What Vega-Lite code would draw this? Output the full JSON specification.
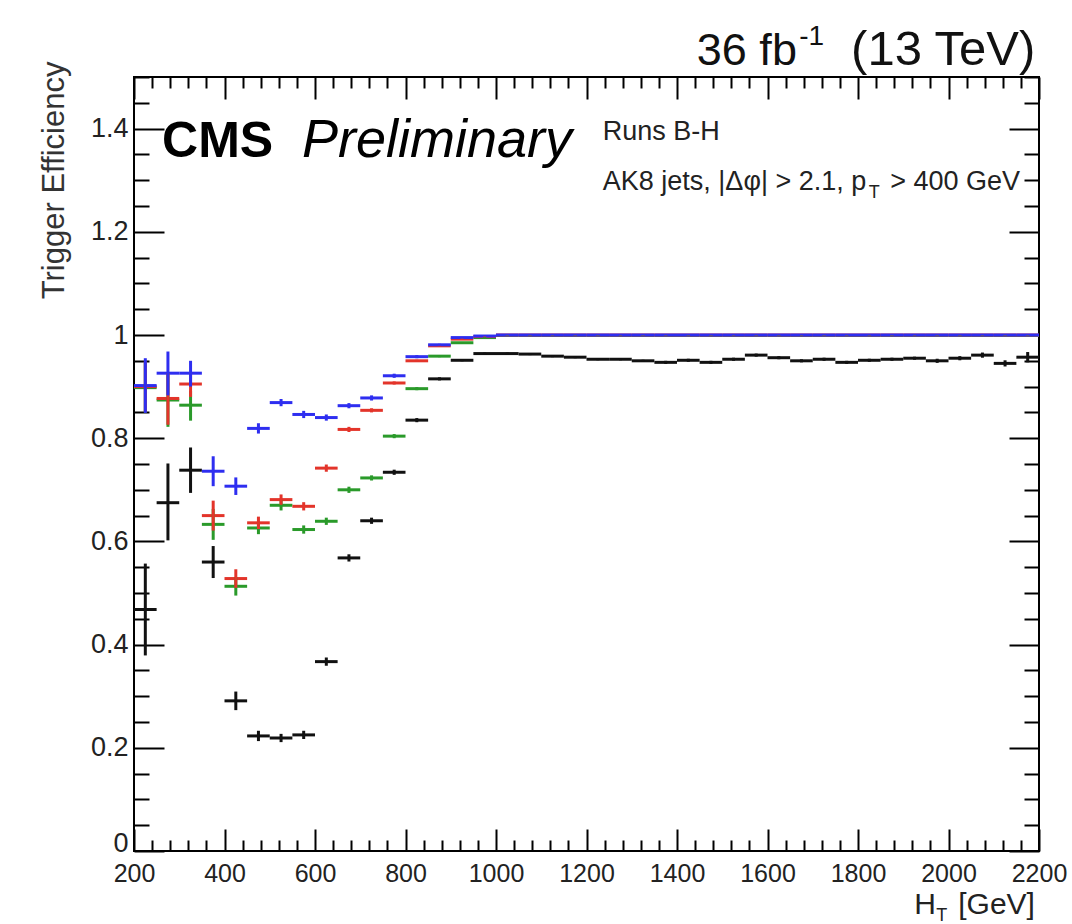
{
  "$schema": "https://vega.github.io/schema/vega-lite/v6.json",
  "width": 905,
  "height": 774,
  "autosize": {"type": "none"},
  "padding": {"left": 134, "top": 77, "right": 33, "bottom": 73},
  "background": "white",
  "config": {
    "view": {"stroke": "black", "strokeWidth": 2},
    "font": "Liberation Sans",
    "axis": {"labelFont": "Liberation Sans", "titleFont": "Liberation Sans", "grid": false, "domain": false, "tickColor": "black", "tickWidth": 2, "labelColor": "#222", "titleColor": "#333"}
  },
  "datasets": {
    "pts": [
      {"s":"k","x":225,"x0":200,"x1":250,"y":0.468,"lo":0.379,"hi":0.557},
      {"s":"k","x":275,"x0":250,"x1":300,"y":0.675,"lo":0.602,"hi":0.751},
      {"s":"k","x":325,"x0":300,"x1":350,"y":0.738,"lo":0.694,"hi":0.782},
      {"s":"k","x":375,"x0":350,"x1":400,"y":0.560,"lo":0.529,"hi":0.591},
      {"s":"k","x":425,"x0":400,"x1":450,"y":0.291,"lo":0.273,"hi":0.309},
      {"s":"k","x":475,"x0":450,"x1":500,"y":0.223,"lo":0.213,"hi":0.233},
      {"s":"k","x":525,"x0":500,"x1":550,"y":0.219,"lo":0.211,"hi":0.227},
      {"s":"k","x":575,"x0":550,"x1":600,"y":0.225,"lo":0.217,"hi":0.233},
      {"s":"k","x":625,"x0":600,"x1":650,"y":0.367,"lo":0.359,"hi":0.375},
      {"s":"k","x":675,"x0":650,"x1":700,"y":0.568,"lo":0.561,"hi":0.575},
      {"s":"k","x":725,"x0":700,"x1":750,"y":0.640,"lo":0.634,"hi":0.646},
      {"s":"k","x":775,"x0":750,"x1":800,"y":0.734,"lo":0.729,"hi":0.739},
      {"s":"k","x":825,"x0":800,"x1":850,"y":0.835,"lo":0.831,"hi":0.839},
      {"s":"k","x":875,"x0":850,"x1":900,"y":0.915,"lo":0.912,"hi":0.918},
      {"s":"k","x":925,"x0":900,"x1":950,"y":0.951,"lo":0.949,"hi":0.953},
      {"s":"k","x":975,"x0":950,"x1":1000,"y":0.964,"lo":0.962,"hi":0.966},
      {"s":"k","x":1025,"x0":1000,"x1":1050,"y":0.964,"lo":0.962,"hi":0.966},
      {"s":"k","x":1075,"x0":1050,"x1":1100,"y":0.963,"lo":0.961,"hi":0.965},
      {"s":"k","x":1125,"x0":1100,"x1":1150,"y":0.959,"lo":0.957,"hi":0.961},
      {"s":"k","x":1175,"x0":1150,"x1":1200,"y":0.957,"lo":0.955,"hi":0.959},
      {"s":"k","x":1225,"x0":1200,"x1":1250,"y":0.953,"lo":0.951,"hi":0.955},
      {"s":"k","x":1275,"x0":1250,"x1":1300,"y":0.953,"lo":0.951,"hi":0.955},
      {"s":"k","x":1325,"x0":1300,"x1":1350,"y":0.950,"lo":0.948,"hi":0.952},
      {"s":"k","x":1375,"x0":1350,"x1":1400,"y":0.947,"lo":0.944,"hi":0.950},
      {"s":"k","x":1425,"x0":1400,"x1":1450,"y":0.951,"lo":0.948,"hi":0.954},
      {"s":"k","x":1475,"x0":1450,"x1":1500,"y":0.947,"lo":0.944,"hi":0.950},
      {"s":"k","x":1525,"x0":1500,"x1":1550,"y":0.953,"lo":0.950,"hi":0.956},
      {"s":"k","x":1575,"x0":1550,"x1":1600,"y":0.961,"lo":0.958,"hi":0.964},
      {"s":"k","x":1625,"x0":1600,"x1":1650,"y":0.956,"lo":0.953,"hi":0.959},
      {"s":"k","x":1675,"x0":1650,"x1":1700,"y":0.950,"lo":0.947,"hi":0.953},
      {"s":"k","x":1725,"x0":1700,"x1":1750,"y":0.953,"lo":0.950,"hi":0.956},
      {"s":"k","x":1775,"x0":1750,"x1":1800,"y":0.947,"lo":0.944,"hi":0.950},
      {"s":"k","x":1825,"x0":1800,"x1":1850,"y":0.951,"lo":0.948,"hi":0.954},
      {"s":"k","x":1875,"x0":1850,"x1":1900,"y":0.953,"lo":0.950,"hi":0.956},
      {"s":"k","x":1925,"x0":1900,"x1":1950,"y":0.955,"lo":0.952,"hi":0.958},
      {"s":"k","x":1975,"x0":1950,"x1":2000,"y":0.950,"lo":0.946,"hi":0.954},
      {"s":"k","x":2025,"x0":2000,"x1":2050,"y":0.955,"lo":0.951,"hi":0.959},
      {"s":"k","x":2075,"x0":2050,"x1":2100,"y":0.961,"lo":0.956,"hi":0.966},
      {"s":"k","x":2125,"x0":2100,"x1":2150,"y":0.945,"lo":0.939,"hi":0.951},
      {"s":"k","x":2175,"x0":2150,"x1":2200,"y":0.957,"lo":0.947,"hi":0.967},

      {"s":"g","x":225,"x0":200,"x1":250,"y":0.898,"lo":0.850,"hi":0.946},
      {"s":"g","x":275,"x0":250,"x1":300,"y":0.874,"lo":0.822,"hi":0.925},
      {"s":"g","x":325,"x0":300,"x1":350,"y":0.864,"lo":0.834,"hi":0.892},
      {"s":"g","x":375,"x0":350,"x1":400,"y":0.633,"lo":0.603,"hi":0.663},
      {"s":"g","x":425,"x0":400,"x1":450,"y":0.513,"lo":0.495,"hi":0.531},
      {"s":"g","x":475,"x0":450,"x1":500,"y":0.626,"lo":0.614,"hi":0.638},
      {"s":"g","x":525,"x0":500,"x1":550,"y":0.670,"lo":0.660,"hi":0.680},
      {"s":"g","x":575,"x0":550,"x1":600,"y":0.623,"lo":0.615,"hi":0.631},
      {"s":"g","x":625,"x0":600,"x1":650,"y":0.639,"lo":0.632,"hi":0.646},
      {"s":"g","x":675,"x0":650,"x1":700,"y":0.700,"lo":0.694,"hi":0.706},
      {"s":"g","x":725,"x0":700,"x1":750,"y":0.723,"lo":0.718,"hi":0.728},
      {"s":"g","x":775,"x0":750,"x1":800,"y":0.804,"lo":0.800,"hi":0.808},
      {"s":"g","x":825,"x0":800,"x1":850,"y":0.896,"lo":0.893,"hi":0.899},
      {"s":"g","x":875,"x0":850,"x1":900,"y":0.959,"lo":0.957,"hi":0.961},
      {"s":"g","x":925,"x0":900,"x1":950,"y":0.985,"lo":0.984,"hi":0.986},
      {"s":"g","x":975,"x0":950,"x1":1000,"y":0.995,"lo":0.994,"hi":0.996},
      {"s":"g","x":1025,"x0":1000,"x1":1050,"y":0.999,"lo":0.998,"hi":1.0},
      {"s":"g","x":1075,"x0":1050,"x1":1100,"y":0.999,"lo":0.998,"hi":1.0},
      {"s":"g","x":1125,"x0":1100,"x1":1150,"y":0.999,"lo":0.998,"hi":1.0},
      {"s":"g","x":1175,"x0":1150,"x1":1200,"y":0.999,"lo":0.998,"hi":1.0},
      {"s":"g","x":1225,"x0":1200,"x1":1250,"y":0.999,"lo":0.998,"hi":1.0},
      {"s":"g","x":1275,"x0":1250,"x1":1300,"y":0.999,"lo":0.998,"hi":1.0},
      {"s":"g","x":1325,"x0":1300,"x1":1350,"y":0.999,"lo":0.998,"hi":1.0},
      {"s":"g","x":1375,"x0":1350,"x1":1400,"y":0.999,"lo":0.998,"hi":1.0},
      {"s":"g","x":1425,"x0":1400,"x1":1450,"y":0.999,"lo":0.998,"hi":1.0},
      {"s":"g","x":1475,"x0":1450,"x1":1500,"y":0.999,"lo":0.998,"hi":1.0},
      {"s":"g","x":1525,"x0":1500,"x1":1550,"y":0.999,"lo":0.998,"hi":1.0},
      {"s":"g","x":1575,"x0":1550,"x1":1600,"y":0.999,"lo":0.998,"hi":1.0},
      {"s":"g","x":1625,"x0":1600,"x1":1650,"y":0.999,"lo":0.998,"hi":1.0},
      {"s":"g","x":1675,"x0":1650,"x1":1700,"y":0.999,"lo":0.998,"hi":1.0},
      {"s":"g","x":1725,"x0":1700,"x1":1750,"y":0.999,"lo":0.998,"hi":1.0},
      {"s":"g","x":1775,"x0":1750,"x1":1800,"y":0.999,"lo":0.998,"hi":1.0},
      {"s":"g","x":1825,"x0":1800,"x1":1850,"y":0.999,"lo":0.998,"hi":1.0},
      {"s":"g","x":1875,"x0":1850,"x1":1900,"y":0.999,"lo":0.998,"hi":1.0},
      {"s":"g","x":1925,"x0":1900,"x1":1950,"y":0.999,"lo":0.998,"hi":1.0},
      {"s":"g","x":1975,"x0":1950,"x1":2000,"y":0.999,"lo":0.998,"hi":1.0},
      {"s":"g","x":2025,"x0":2000,"x1":2050,"y":0.999,"lo":0.998,"hi":1.0},
      {"s":"g","x":2075,"x0":2050,"x1":2100,"y":0.999,"lo":0.998,"hi":1.0},
      {"s":"g","x":2125,"x0":2100,"x1":2150,"y":0.999,"lo":0.998,"hi":1.0},
      {"s":"g","x":2175,"x0":2150,"x1":2200,"y":0.999,"lo":0.998,"hi":1.0},

      {"s":"r","x":225,"x0":200,"x1":250,"y":0.900,"lo":0.851,"hi":0.949},
      {"s":"r","x":275,"x0":250,"x1":300,"y":0.877,"lo":0.826,"hi":0.926},
      {"s":"r","x":325,"x0":300,"x1":350,"y":0.905,"lo":0.880,"hi":0.928},
      {"s":"r","x":375,"x0":350,"x1":400,"y":0.650,"lo":0.621,"hi":0.679},
      {"s":"r","x":425,"x0":400,"x1":450,"y":0.528,"lo":0.510,"hi":0.546},
      {"s":"r","x":475,"x0":450,"x1":500,"y":0.636,"lo":0.624,"hi":0.648},
      {"s":"r","x":525,"x0":500,"x1":550,"y":0.681,"lo":0.671,"hi":0.691},
      {"s":"r","x":575,"x0":550,"x1":600,"y":0.668,"lo":0.660,"hi":0.676},
      {"s":"r","x":625,"x0":600,"x1":650,"y":0.742,"lo":0.735,"hi":0.749},
      {"s":"r","x":675,"x0":650,"x1":700,"y":0.817,"lo":0.812,"hi":0.822},
      {"s":"r","x":725,"x0":700,"x1":750,"y":0.854,"lo":0.850,"hi":0.858},
      {"s":"r","x":775,"x0":750,"x1":800,"y":0.907,"lo":0.904,"hi":0.910},
      {"s":"r","x":825,"x0":800,"x1":850,"y":0.950,"lo":0.948,"hi":0.952},
      {"s":"r","x":875,"x0":850,"x1":900,"y":0.979,"lo":0.978,"hi":0.980},
      {"s":"r","x":925,"x0":900,"x1":950,"y":0.992,"lo":0.991,"hi":0.993},
      {"s":"r","x":975,"x0":950,"x1":1000,"y":0.997,"lo":0.996,"hi":0.998},
      {"s":"r","x":1025,"x0":1000,"x1":1050,"y":1.0,"lo":0.999,"hi":1.0},
      {"s":"r","x":1075,"x0":1050,"x1":1100,"y":1.0,"lo":0.999,"hi":1.0},
      {"s":"r","x":1125,"x0":1100,"x1":1150,"y":1.0,"lo":0.999,"hi":1.0},
      {"s":"r","x":1175,"x0":1150,"x1":1200,"y":1.0,"lo":0.999,"hi":1.0},
      {"s":"r","x":1225,"x0":1200,"x1":1250,"y":1.0,"lo":0.999,"hi":1.0},
      {"s":"r","x":1275,"x0":1250,"x1":1300,"y":1.0,"lo":0.999,"hi":1.0},
      {"s":"r","x":1325,"x0":1300,"x1":1350,"y":1.0,"lo":0.999,"hi":1.0},
      {"s":"r","x":1375,"x0":1350,"x1":1400,"y":1.0,"lo":0.999,"hi":1.0},
      {"s":"r","x":1425,"x0":1400,"x1":1450,"y":1.0,"lo":0.999,"hi":1.0},
      {"s":"r","x":1475,"x0":1450,"x1":1500,"y":1.0,"lo":0.999,"hi":1.0},
      {"s":"r","x":1525,"x0":1500,"x1":1550,"y":1.0,"lo":0.999,"hi":1.0},
      {"s":"r","x":1575,"x0":1550,"x1":1600,"y":1.0,"lo":0.999,"hi":1.0},
      {"s":"r","x":1625,"x0":1600,"x1":1650,"y":1.0,"lo":0.999,"hi":1.0},
      {"s":"r","x":1675,"x0":1650,"x1":1700,"y":1.0,"lo":0.999,"hi":1.0},
      {"s":"r","x":1725,"x0":1700,"x1":1750,"y":1.0,"lo":0.999,"hi":1.0},
      {"s":"r","x":1775,"x0":1750,"x1":1800,"y":1.0,"lo":0.999,"hi":1.0},
      {"s":"r","x":1825,"x0":1800,"x1":1850,"y":1.0,"lo":0.999,"hi":1.0},
      {"s":"r","x":1875,"x0":1850,"x1":1900,"y":1.0,"lo":0.999,"hi":1.0},
      {"s":"r","x":1925,"x0":1900,"x1":1950,"y":1.0,"lo":0.999,"hi":1.0},
      {"s":"r","x":1975,"x0":1950,"x1":2000,"y":1.0,"lo":0.999,"hi":1.0},
      {"s":"r","x":2025,"x0":2000,"x1":2050,"y":1.0,"lo":0.999,"hi":1.0},
      {"s":"r","x":2075,"x0":2050,"x1":2100,"y":1.0,"lo":0.999,"hi":1.0},
      {"s":"r","x":2125,"x0":2100,"x1":2150,"y":1.0,"lo":0.999,"hi":1.0},
      {"s":"r","x":2175,"x0":2150,"x1":2200,"y":1.0,"lo":0.999,"hi":1.0},

      {"s":"b","x":225,"x0":200,"x1":250,"y":0.902,"lo":0.849,"hi":0.955},
      {"s":"b","x":275,"x0":250,"x1":300,"y":0.926,"lo":0.883,"hi":0.968},
      {"s":"b","x":325,"x0":300,"x1":350,"y":0.926,"lo":0.900,"hi":0.950},
      {"s":"b","x":375,"x0":350,"x1":400,"y":0.736,"lo":0.707,"hi":0.765},
      {"s":"b","x":425,"x0":400,"x1":450,"y":0.707,"lo":0.690,"hi":0.724},
      {"s":"b","x":475,"x0":450,"x1":500,"y":0.819,"lo":0.809,"hi":0.829},
      {"s":"b","x":525,"x0":500,"x1":550,"y":0.869,"lo":0.862,"hi":0.876},
      {"s":"b","x":575,"x0":550,"x1":600,"y":0.846,"lo":0.839,"hi":0.853},
      {"s":"b","x":625,"x0":600,"x1":650,"y":0.840,"lo":0.834,"hi":0.846},
      {"s":"b","x":675,"x0":650,"x1":700,"y":0.863,"lo":0.858,"hi":0.868},
      {"s":"b","x":725,"x0":700,"x1":750,"y":0.878,"lo":0.873,"hi":0.883},
      {"s":"b","x":775,"x0":750,"x1":800,"y":0.921,"lo":0.917,"hi":0.925},
      {"s":"b","x":825,"x0":800,"x1":850,"y":0.958,"lo":0.955,"hi":0.961},
      {"s":"b","x":875,"x0":850,"x1":900,"y":0.981,"lo":0.979,"hi":0.983},
      {"s":"b","x":925,"x0":900,"x1":950,"y":0.995,"lo":0.994,"hi":0.996},
      {"s":"b","x":975,"x0":950,"x1":1000,"y":0.998,"lo":0.997,"hi":0.999},
      {"s":"b","x":1025,"x0":1000,"x1":1050,"y":1.0,"lo":0.999,"hi":1.0},
      {"s":"b","x":1075,"x0":1050,"x1":1100,"y":1.0,"lo":0.999,"hi":1.0},
      {"s":"b","x":1125,"x0":1100,"x1":1150,"y":1.0,"lo":0.999,"hi":1.0},
      {"s":"b","x":1175,"x0":1150,"x1":1200,"y":1.0,"lo":0.999,"hi":1.0},
      {"s":"b","x":1225,"x0":1200,"x1":1250,"y":1.0,"lo":0.999,"hi":1.0},
      {"s":"b","x":1275,"x0":1250,"x1":1300,"y":1.0,"lo":0.999,"hi":1.0},
      {"s":"b","x":1325,"x0":1300,"x1":1350,"y":1.0,"lo":0.999,"hi":1.0},
      {"s":"b","x":1375,"x0":1350,"x1":1400,"y":1.0,"lo":0.999,"hi":1.0},
      {"s":"b","x":1425,"x0":1400,"x1":1450,"y":1.0,"lo":0.999,"hi":1.0},
      {"s":"b","x":1475,"x0":1450,"x1":1500,"y":1.0,"lo":0.999,"hi":1.0},
      {"s":"b","x":1525,"x0":1500,"x1":1550,"y":1.0,"lo":0.999,"hi":1.0},
      {"s":"b","x":1575,"x0":1550,"x1":1600,"y":1.0,"lo":0.999,"hi":1.0},
      {"s":"b","x":1625,"x0":1600,"x1":1650,"y":1.0,"lo":0.999,"hi":1.0},
      {"s":"b","x":1675,"x0":1650,"x1":1700,"y":1.0,"lo":0.999,"hi":1.0},
      {"s":"b","x":1725,"x0":1700,"x1":1750,"y":1.0,"lo":0.999,"hi":1.0},
      {"s":"b","x":1775,"x0":1750,"x1":1800,"y":1.0,"lo":0.999,"hi":1.0},
      {"s":"b","x":1825,"x0":1800,"x1":1850,"y":1.0,"lo":0.999,"hi":1.0},
      {"s":"b","x":1875,"x0":1850,"x1":1900,"y":1.0,"lo":0.999,"hi":1.0},
      {"s":"b","x":1925,"x0":1900,"x1":1950,"y":1.0,"lo":0.999,"hi":1.0},
      {"s":"b","x":1975,"x0":1950,"x1":2000,"y":1.0,"lo":0.999,"hi":1.0},
      {"s":"b","x":2025,"x0":2000,"x1":2050,"y":1.0,"lo":0.999,"hi":1.0},
      {"s":"b","x":2075,"x0":2050,"x1":2100,"y":1.0,"lo":0.999,"hi":1.0},
      {"s":"b","x":2125,"x0":2100,"x1":2150,"y":1.0,"lo":0.999,"hi":1.0},
      {"s":"b","x":2175,"x0":2150,"x1":2200,"y":1.0,"lo":0.999,"hi":1.0}
    ]
  },
  "layer": [
    {
      "data": {"name": "pts"},
      "mark": {"type": "rule", "strokeWidth": 3},
      "encoding": {
        "x": {"field": "x0", "type": "quantitative", "scale": {"domain": [200, 2200], "nice": false, "zero": false},
          "axis": {"orient": "bottom", "title": null,
            "values": [200,240,280,320,360,400,440,480,520,560,600,640,680,720,760,800,840,880,920,960,1000,1040,1080,1120,1160,1200,1240,1280,1320,1360,1400,1440,1480,1520,1560,1600,1640,1680,1720,1760,1800,1840,1880,1920,1960,2000,2040,2080,2120,2160,2200],
            "tickSize": {"condition": {"test": "datum.value % 200 === 0", "value": -22}, "value": -11},
            "labelExpr": "datum.value % 200 === 0 ? '' + datum.value : ''",
            "labelFontSize": 25, "labelPadding": 32, "labelFlush": false, "labelOverlap": false, "labelBaseline": "top"}},
        "x2": {"field": "x1"},
        "y": {"field": "y", "type": "quantitative", "scale": {"domain": [0, 1.5], "nice": false, "zero": false},
          "axis": {"orient": "left", "title": "Trigger Efficiency", "titleFontSize": 31, "titleFontWeight": "normal", "titleAnchor": "end", "titlePadding": 20, "titleY": -16,
            "values": [0,0.05,0.1,0.15,0.2,0.25,0.3,0.35,0.4,0.45,0.5,0.55,0.6,0.65,0.7,0.75,0.8,0.85,0.9,0.95,1,1.05,1.1,1.15,1.2,1.25,1.3,1.35,1.4,1.45,1.5],
            "tickSize": {"condition": {"test": "round(datum.value*100) % 20 === 0", "value": -30}, "value": -15},
            "labelExpr": "round(datum.value*100) % 20 === 0 && datum.value < 1.5 ? '' + datum.value : ''",
            "labelBaseline": {"condition": {"test": "datum.value === 0", "value": "alphabetic"}, "value": "middle"},
            "labelFontSize": 27, "labelPadding": 36, "labelFlush": false, "labelOverlap": false}},
        "color": {"field": "s", "type": "nominal", "legend": null,
          "scale": {"domain": ["k", "g", "r", "b"], "range": ["#111111", "#2a9a2a", "#e3342a", "#2e2ef0"]}}
      }
    },
    {
      "data": {"name": "pts"},
      "mark": {"type": "rule", "strokeWidth": 3},
      "encoding": {
        "x": {"field": "x", "type": "quantitative",
          "axis": {"orient": "top", "title": null, "labels": false,
            "values": [200,240,280,320,360,400,440,480,520,560,600,640,680,720,760,800,840,880,920,960,1000,1040,1080,1120,1160,1200,1240,1280,1320,1360,1400,1440,1480,1520,1560,1600,1640,1680,1720,1760,1800,1840,1880,1920,1960,2000,2040,2080,2120,2160,2200],
            "tickSize": {"condition": {"test": "datum.value % 200 === 0", "value": -22}, "value": -11}}},
        "y": {"field": "lo", "type": "quantitative",
          "axis": {"orient": "right", "title": null, "labels": false,
            "values": [0,0.05,0.1,0.15,0.2,0.25,0.3,0.35,0.4,0.45,0.5,0.55,0.6,0.65,0.7,0.75,0.8,0.85,0.9,0.95,1,1.05,1.1,1.15,1.2,1.25,1.3,1.35,1.4,1.45,1.5],
            "tickSize": {"condition": {"test": "round(datum.value*100) % 20 === 0", "value": -30}, "value": -15}}},
        "y2": {"field": "hi"},
        "color": {"field": "s", "type": "nominal", "legend": null}
      }
    },
    {
      "data": {"values": [{}]},
      "mark": {"type": "text", "text": "CMS", "font": "Liberation Sans", "fontWeight": "bold", "fontSize": 50, "align": "left", "baseline": "alphabetic", "color": "black"},
      "encoding": {"x": {"datum": 262, "type": "quantitative", "axis": null}, "y": {"datum": 1.345, "type": "quantitative", "axis": null}}
    },
    {
      "data": {"values": [{}]},
      "mark": {"type": "text", "text": "Preliminary", "font": "Liberation Sans", "fontStyle": "italic", "fontSize": 54, "align": "left", "baseline": "alphabetic", "color": "black"},
      "encoding": {"x": {"datum": 571, "type": "quantitative", "axis": null}, "y": {"datum": 1.345, "type": "quantitative", "axis": null}}
    },
    {
      "data": {"values": [{}]},
      "mark": {"type": "text", "text": "Runs B-H", "font": "Liberation Sans", "fontSize": 27, "align": "left", "baseline": "alphabetic", "color": "#222"},
      "encoding": {"x": {"datum": 1236, "type": "quantitative", "axis": null}, "y": {"datum": 1.378, "type": "quantitative", "axis": null}}
    },
    {
      "data": {"values": [{}]},
      "mark": {"type": "text", "text": "AK8 jets, |Δφ| > 2.1, p", "font": "Liberation Sans", "fontSize": 27, "align": "left", "baseline": "alphabetic", "color": "#222"},
      "encoding": {"x": {"datum": 1236, "type": "quantitative", "axis": null}, "y": {"datum": 1.281, "type": "quantitative", "axis": null}}
    },
    {
      "data": {"values": [{}]},
      "mark": {"type": "text", "text": "T", "font": "Liberation Sans", "fontSize": 18, "align": "left", "baseline": "alphabetic", "color": "#222"},
      "encoding": {"x": {"datum": 1824, "type": "quantitative", "axis": null}, "y": {"datum": 1.266, "type": "quantitative", "axis": null}}
    },
    {
      "data": {"values": [{}]},
      "mark": {"type": "text", "text": " > 400 GeV", "font": "Liberation Sans", "fontSize": 27, "align": "right", "baseline": "alphabetic", "color": "#222"},
      "encoding": {"x": {"datum": 2158, "type": "quantitative", "axis": null}, "y": {"datum": 1.281, "type": "quantitative", "axis": null}}
    },
    {
      "data": {"values": [{}]},
      "mark": {"type": "text", "text": "36 fb", "font": "Liberation Sans", "fontSize": 45, "align": "right", "baseline": "alphabetic", "color": "#111"},
      "encoding": {"x": {"datum": 1665, "type": "quantitative", "axis": null}, "y": {"datum": 1.523, "type": "quantitative", "axis": null}}
    },
    {
      "data": {"values": [{}]},
      "mark": {"type": "text", "text": "-1", "font": "Liberation Sans", "fontSize": 28, "align": "left", "baseline": "alphabetic", "color": "#111"},
      "encoding": {"x": {"datum": 1670, "type": "quantitative", "axis": null}, "y": {"datum": 1.562, "type": "quantitative", "axis": null}}
    },
    {
      "data": {"values": [{}]},
      "mark": {"type": "text", "text": "(13 TeV)", "font": "Liberation Sans", "fontSize": 49, "align": "right", "baseline": "alphabetic", "color": "#111"},
      "encoding": {"x": {"datum": 2192, "type": "quantitative", "axis": null}, "y": {"datum": 1.523, "type": "quantitative", "axis": null}}
    },
    {
      "data": {"values": [{}]},
      "mark": {"type": "text", "text": "H", "font": "Liberation Sans", "fontSize": 30, "align": "right", "baseline": "alphabetic", "color": "#222"},
      "encoding": {"x": {"datum": 1972, "type": "quantitative", "axis": null}, "y": {"datum": -0.122, "type": "quantitative", "axis": null}}
    },
    {
      "data": {"values": [{}]},
      "mark": {"type": "text", "text": "T", "font": "Liberation Sans", "fontSize": 18, "align": "left", "baseline": "alphabetic", "color": "#222"},
      "encoding": {"x": {"datum": 1973, "type": "quantitative", "axis": null}, "y": {"datum": -0.135, "type": "quantitative", "axis": null}}
    },
    {
      "data": {"values": [{}]},
      "mark": {"type": "text", "text": "[GeV]", "font": "Liberation Sans", "fontSize": 30, "align": "right", "baseline": "alphabetic", "color": "#222"},
      "encoding": {"x": {"datum": 2191, "type": "quantitative", "axis": null}, "y": {"datum": -0.122, "type": "quantitative", "axis": null}}
    }
  ],
  "resolve": {"axis": {"x": "independent", "y": "independent"}}
}
